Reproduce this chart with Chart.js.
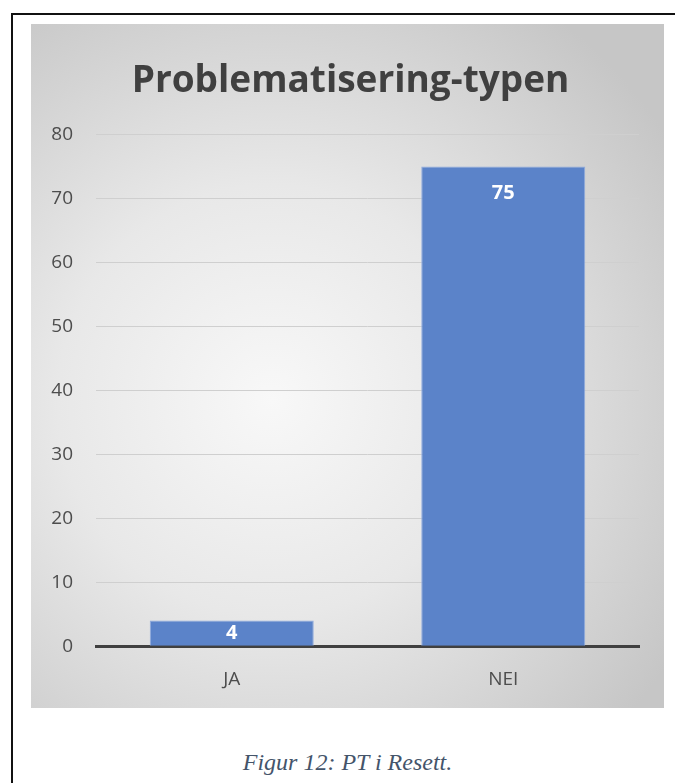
<!DOCTYPE html>
<html>
<head>
<meta charset="utf-8">
<script src="https://cdn.jsdelivr.net/npm/chart.js@4.4.1/dist/chart.umd.min.js"></script>
<style>
  html, body { margin: 0; padding: 0; background: #fff; width: 675px; height: 783px; overflow: hidden; }
  #frame { position: absolute; left: 11px; top: 13px; width: 700px; height: 800px;
           border-left: 2px solid #111; border-top: 2px solid #111; }
  #box { position: absolute; left: 31px; top: 24px; width: 633px; height: 684px;
         background: radial-gradient(ellipse 75% 70% at 38% 55%, #f8f8f8 0%, #e8e8e8 45%, #c6c6c6 100%); }
  #caption { position: absolute; left: 10px; width: 675px; top: 749px; text-align: center;
             font-family: "Liberation Serif", serif; font-style: italic; font-size: 24px; color: #44546a; }
</style>
</head>
<body>
<div id="frame"></div>
<div id="box"><canvas id="myChart" width="633" height="684"></canvas></div>
<div id="caption">Figur 12: PT i Resett.</div>
<script>
var categories = ['JA', 'NEI'];
var counts = [4, 75];
var chartTitle = 'Problematisering-typen';

// white value labels inside the bar end
var barLabels = {
    id: 'barLabels',
    afterDatasetsDraw: function(chart) {
        var ctx = chart.ctx;
        var meta = chart.getDatasetMeta(0);
        ctx.save();
        ctx.fillStyle = '#ffffff';
        ctx.font = 'bold 20px "Open Sans"';
        ctx.textAlign = 'center';
        ctx.textBaseline = 'middle';
        meta.data.forEach(function(bar, i) {
            var h = bar.base - bar.y;
            var off = Math.min(27, h / 2);
            ctx.fillText(String(counts[i]), bar.x, bar.y + off);
        });
        ctx.restore();
    }
};

var ctx = document.getElementById('myChart').getContext('2d');
var myChart = new Chart(ctx, {
    type: 'bar',
    data: {
        labels: categories,
        datasets: [{
            data: counts,
            backgroundColor: '#5b83c9',
            borderColor: '#8eaadf',
            borderWidth: 1,
            barPercentage: 0.604,
            categoryPercentage: 1.0
        }]
    },
    options: {
        responsive: false,
        animation: false,
        layout: { padding: { left: 6, right: 0, top: 0, bottom: 3 } },
        plugins: {
            legend: { display: false },
            tooltip: { enabled: false },
            title: {
                display: true,
                text: chartTitle,
                color: '#404040',
                font: { family: 'Open Sans', size: 37, weight: 'bold' },
                padding: { top: 35, bottom: 31 }
            }
        },
        scales: {
            x: {
                grid: { display: false },
                border: { display: true, color: '#404040', width: 3 },
                ticks: { color: '#4d4d4d', font: { family: 'Open Sans', size: 19 }, padding: 14 }
            },
            y: {
                min: 0,
                max: 80,
                afterFit: function(scale) { scale.width = 59; },
                grid: {
                    drawTicks: false,
                    color: function(c) { return c.tick && c.tick.value === 0 ? 'rgba(0,0,0,0)' : '#cfcfcf'; }
                },
                border: { display: false },
                ticks: { stepSize: 10, color: '#4d4d4d', font: { family: 'Open Sans', size: 19 }, padding: 23 }
            },
            // empty right-hand spacer so the plot ends where the reference does
            yRight: {
                position: 'right',
                min: 0,
                max: 80,
                afterFit: function(scale) { scale.width = 25; },
                grid: { display: false },
                border: { display: false },
                ticks: { display: false }
            }
        }
    },
    plugins: [barLabels]
});
</script>
</body>
</html>
